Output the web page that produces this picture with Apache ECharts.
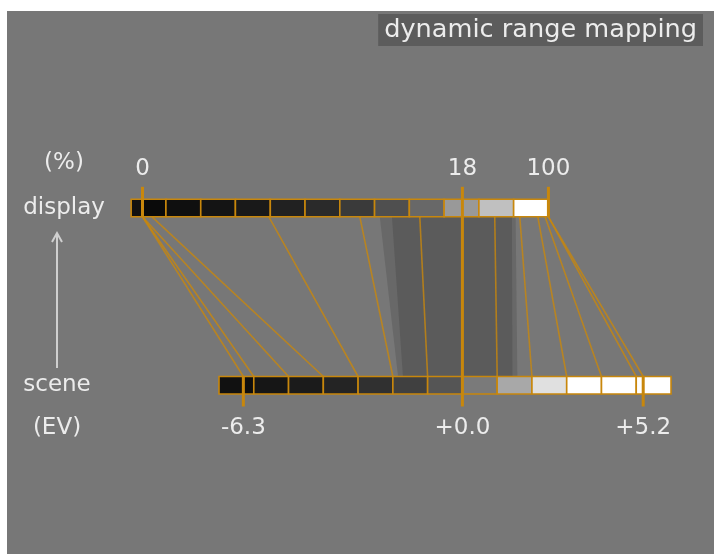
<!DOCTYPE html>
<html><head><meta charset="utf-8">
<script src="https://cdn.jsdelivr.net/npm/echarts@6/dist/echarts.min.js"></script>
<style>
html,body{margin:0;padding:0;background:#fff;width:714px;height:554px;overflow:hidden}
#bg{position:absolute;left:7px;top:11px;width:707px;height:543px;background:#777}
#chart{position:absolute;left:0;top:0;width:714px;height:554px}
</style></head>
<body><div id="bg"></div><div id="chart"></div>
<script>
// ---------- data ----------
const titleText = 'dynamic range mapping';
const GREY_PCT = 18;                // display middle grey (%)
const BLACK_PCT = 0.0306;           // display black target (%)
// display bar: cell edges in display % (1 EV steps down from 100 %, split at black)
const displayEdgesPct = [0.0244, BLACK_PCT, 0.0488, 0.0977, 0.195, 0.391, 0.781, 1.5625, 3.125, 6.25, 12.5, 25, 50, 100];
const displayCellColors = ['#111111','#0a0a0a','#0f0f0f','#141414','#191919','#212121','#2a2a2a','#3a3a3a','#4f4f4f','#686868','#999999','#c0c0c0','#ffffff'];
// scene bar: cell edges in EV
const sceneEdgesEV = [-7, -6.3, -6, -5, -4, -3, -2, -1, 0, 1, 2, 3, 4, 5, 5.2, 6];
const sceneCellColors = ['#111111','#0e0e0e','#161616','#1b1b1b','#242424','#303030','#404040','#555555','#7a7a7a','#a8a8a8','#e0e0e0','#ffffff','#ffffff','#ffffff','#ffffff'];
// mapping lines: scene EV -> display %
const linkSceneEV   = [-6.3, -6, -5, -4, -3, -2, -1, 0, 1, 2, 3, 4, 5, 5.2];
const linkDisplayPct = [BLACK_PCT, BLACK_PCT, BLACK_PCT, 0.037, 0.38, 2.33, 7.7, 18, 34.3, 56.5, 81, 93.5, 100, 100];
// latitude (linear part) area: scene EV range and display % range
const latitudeSceneEV  = [-1.71, 1.44];
const latitudeDisplayPct = [4.42, 48.3];
const latitudeOuterSceneEV = [-1.85, 1.58];
const latitudeOuterDisplayPct = [3.47, 52];
// tick marks and labels
const displayTickPct = [BLACK_PCT, GREY_PCT, 100];
const displayTickLabels = ['0', '18', '100'];
const sceneTickEV = [-6.3, 0, 5.2];
const sceneTickLabels = ['-6.3', '+0.0', '+5.2'];

// ---------- layout (pixels / styles) ----------
const W = 714, H = 554;
const EV_PX = 34.77, ZERO_X = 462.4;       // horizontal scale: pixels per EV, x of 0 EV
const SCENE_TOP = 376.5, DISPLAY_BOTTOM = 216.8, BAR_H = 17.5;
const ROW_PX = SCENE_TOP - DISPLAY_BOTTOM;
const ORANGE = '#c8870c';
const TXT = '#ececec';
const FONT = '23px "DejaVu Sans"';

const dEV = p => Math.log2(p / GREY_PCT);

const chart = echarts.init(document.getElementById('chart'), null, {renderer: 'canvas'});

function cellSeries(edges, colors, row, conv){
  const data = [];
  for (let i = 0; i < colors.length; i++) data.push([conv(edges[i]), conv(edges[i+1]), i]);
  return {
    type: 'custom', clip: false, data, z: 5,
    renderItem(params, api){
      const a = api.coord([api.value(0), row]);
      const b = api.coord([api.value(1), row]);
      const y = row === 1 ? a[1] - BAR_H : a[1];
      return {type: 'rect', shape: {x: a[0], y, width: b[0] - a[0], height: BAR_H},
        style: {fill: colors[api.value(2)], stroke: ORANGE, lineWidth: 1.6, opacity: 1}};
    }
  };
}

function polySeries(sceneR, dispR, color, z){
  return {
    type: 'custom', clip: false, z, data: [[dEV(dispR[0]), dEV(dispR[1]), sceneR[0], sceneR[1]]],
    renderItem(params, api){
      const p1 = api.coord([api.value(0), 1]);
      const p2 = api.coord([api.value(1), 1]);
      const p3 = api.coord([api.value(3), 0]);
      const p4 = api.coord([api.value(2), 0]);
      return {type: 'polygon', shape: {points: [p1, p2, p3, p4]}, style: {fill: color}};
    }
  };
}

const option = {
  animation: false,
  title: {
    text: titleText, right: 11, top: 14,
    backgroundColor: '#5c5c5c', padding: [2, 6, 2, 6],
    textStyle: {color: TXT, fontSize: 25.6, fontWeight: 'normal', fontFamily: 'DejaVu Sans', lineHeight: 28}
  },
  grid: {left: 0, right: 0, top: 0, bottom: 0},
  xAxis: {type: 'value', min: -ZERO_X / EV_PX, max: (W - ZERO_X) / EV_PX, show: false},
  yAxis: {type: 'value', min: -(H - SCENE_TOP) / ROW_PX, max: SCENE_TOP / ROW_PX, show: false},
  graphic: [
    {type: 'text', style: {text: '(%)', x: 64, y: 163, align: 'center', verticalAlign: 'middle', font: FONT, fill: TXT}},
    {type: 'text', style: {text: 'display', x: 64, y: 208, align: 'center', verticalAlign: 'middle', font: FONT, fill: TXT}},
    {type: 'text', style: {text: 'scene', x: 57, y: 385, align: 'center', verticalAlign: 'middle', font: FONT, fill: TXT}},
    {type: 'text', style: {text: '(EV)', x: 57, y: 428, align: 'center', verticalAlign: 'middle', font: FONT, fill: TXT}},
    {type: 'line', shape: {x1: 57, y1: 368, x2: 57, y2: 234}, style: {stroke: '#cfcfcf', lineWidth: 2}},
    {type: 'polyline', shape: {points: [[52, 242], [57, 233], [62, 242]]}, style: {stroke: '#cfcfcf', lineWidth: 2, fill: null}}
  ],
  series: [
    polySeries(latitudeOuterSceneEV, latitudeOuterDisplayPct, '#686868', 1),
    polySeries(latitudeSceneEV, latitudeDisplayPct, '#5b5b5b', 2),
    {
      type: 'custom', clip: false, z: 3,
      data: linkSceneEV.map((s, i) => [s, dEV(linkDisplayPct[i])]),
      renderItem(params, api){
        const a = api.coord([api.value(0), 0]);
        const b = api.coord([api.value(1), 1]);
        return {type: 'line', shape: {x1: a[0], y1: a[1], x2: b[0], y2: b[1]},
          style: {stroke: ORANGE, lineWidth: 1.6, opacity: 0.8}};
      }
    },
    cellSeries(displayEdgesPct, displayCellColors, 1, dEV),
    cellSeries(sceneEdgesEV, sceneCellColors, 0, v => v),
    { // display ticks + labels
      type: 'custom', clip: false, z: 8,
      data: displayTickPct.map((p, i) => [dEV(p), i]),
      renderItem(params, api){
        const a = api.coord([api.value(0), 1]);
        const i = api.value(1);
        return {type: 'group', children: [
          {type: 'line', shape: {x1: a[0], y1: a[1] - 30, x2: a[0], y2: a[1]}, style: {stroke: ORANGE, lineWidth: 3}},
          {type: 'text', style: {text: displayTickLabels[i], x: a[0], y: a[1] - 48, align: 'center', verticalAlign: 'middle', font: FONT, fill: TXT}}
        ]};
      }
    },
    { // scene ticks + labels
      type: 'custom', clip: false, z: 8,
      data: sceneTickEV.map((v, i) => [v, i]),
      renderItem(params, api){
        const a = api.coord([api.value(0), 0]);
        const i = api.value(1);
        return {type: 'group', children: [
          {type: 'line', shape: {x1: a[0], y1: a[1], x2: a[0], y2: a[1] + 30}, style: {stroke: ORANGE, lineWidth: 3}},
          {type: 'text', style: {text: sceneTickLabels[i], x: a[0], y: a[1] + 52, align: 'center', verticalAlign: 'middle', font: FONT, fill: TXT}}
        ]};
      }
    },
    { // middle grey link (thick)
      type: 'custom', clip: false, z: 8,
      data: [[0, dEV(GREY_PCT)]],
      renderItem(params, api){
        const a = api.coord([api.value(0), 0]);
        const b = api.coord([api.value(1), 1]);
        return {type: 'line', shape: {x1: a[0], y1: a[1], x2: b[0], y2: b[1]}, style: {stroke: ORANGE, lineWidth: 3}};
      }
    }
  ]
};
chart.setOption(option);
</script>
</body></html>
